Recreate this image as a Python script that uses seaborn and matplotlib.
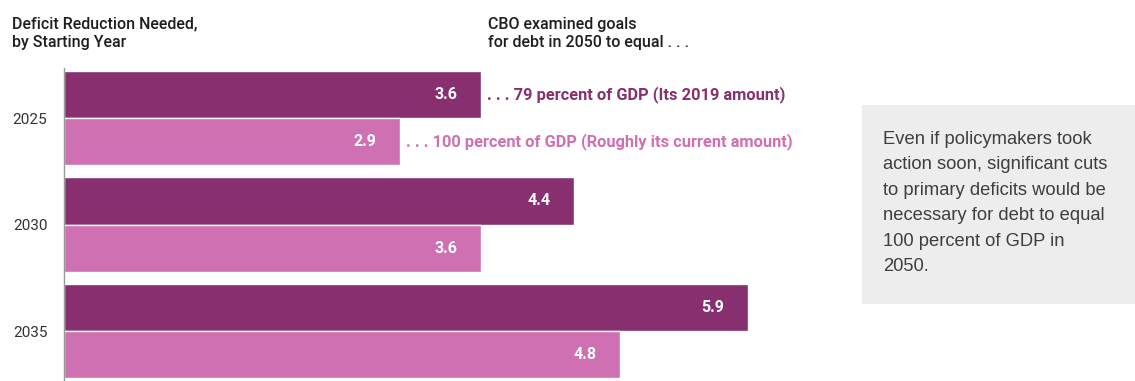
import matplotlib
matplotlib.use("Agg")
import matplotlib.pyplot as plt
import seaborn as sns
import pandas as pd
from matplotlib.patches import Rectangle

# Data: deficit reduction needed (percent of GDP) by starting year
years = ["2025", "2030", "2035"]
goals = ["79 percent of GDP", "100 percent of GDP"]
reduction_79 = [3.6, 4.4, 5.9]
reduction_100 = [2.9, 3.6, 4.8]
goal_labels = [". . . 79 percent of GDP (Its 2019 amount)",
               ". . . 100 percent of GDP (Roughly its current amount)"]

df = pd.DataFrame({
    "year": years * 2,
    "goal": [goals[0]] * 3 + [goals[1]] * 3,
    "value": reduction_79 + reduction_100,
})

dark = "#88306F"
light = "#CE70B1"
text_col = "#333333"

sns.set_theme(style="white")
plt.rcParams["font.family"] = ["Roboto", "DejaVu Sans"]

fig = plt.figure(figsize=(11.35, 3.81), dpi=100)
ax = fig.add_axes([64 / 1135, 1 / 381, 811 / 1135, 312 / 381])

sns.barplot(data=df, y="year", x="value", hue="goal", orient="h",
            palette=[dark, light], width=0.885, saturation=1,
            legend=False, ax=ax)

ax.set_xlim(0, 7.0)
ax.set_ylim(2.46, -0.47)
ax.set_xlabel("")
ax.set_ylabel("")
ax.set_xticks([])
ax.tick_params(axis="y", length=0, pad=12, labelsize=11, labelcolor=text_col)
for s in ["top", "right", "bottom"]:
    ax.spines[s].set_visible(False)
ax.spines["left"].set_color("#9A9A9A")
ax.spines["left"].set_linewidth(1.0)

# Value labels inside bar ends
for container in ax.containers:
    for bar in container:
        w = bar.get_width()
        yc = bar.get_y() + bar.get_height() / 2
        ax.annotate(f"{w:.1f}", xy=(w, yc), xytext=(-17, 0),
                    textcoords="offset points", ha="right", va="center",
                    color="white", fontsize=11.5, fontweight="bold")

# Goal labels beside the 2025 bars
for container, lab, col in zip(ax.containers, goal_labels, [dark, light]):
    bar = container[0]
    yc = bar.get_y() + bar.get_height() / 2
    ax.annotate(lab, xy=(bar.get_width(), yc), xytext=(4, 0),
                textcoords="offset points", ha="left", va="center",
                color=col, fontsize=11.8, fontweight="bold")

# Headings
fig.text(12 / 1135, 1 - 33 / 381, "Deficit Reduction Needed,\nby Starting Year",
         ha="left", va="center", fontsize=11.5, color="#1E1E1E",
         fontweight="medium", linespacing=1.25)
fig.text(488 / 1135, 1 - 33 / 381, "CBO examined goals\nfor debt in 2050 to equal . . .",
         ha="left", va="center", fontsize=11.5, color="#1E1E1E",
         fontweight="medium", linespacing=1.25)

# Side note box
fig.patches.append(Rectangle((862 / 1135, 1 - 304 / 381), 273 / 1135, 199 / 381,
                             transform=fig.transFigure, facecolor="#EDEDED",
                             edgecolor="none", zorder=0))
fig.text(883 / 1135, 1 - 203 / 381,
         "Even if policymakers took\naction soon, significant cuts\n"
         "to primary deficits would be\nnecessary for debt to equal\n"
         "100 percent of GDP in\n2050.",
         ha="left", va="center", fontsize=13.2, color="#3E3E3E",
         linespacing=1.66, family=["Liberation Sans", "DejaVu Sans"])

fig.savefig("out.png", dpi=100)
